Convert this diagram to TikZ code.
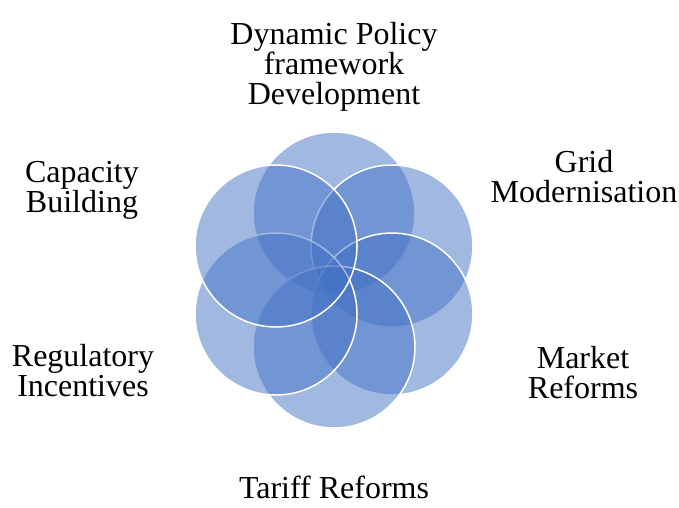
\documentclass[tikz,border=0pt]{standalone}
\usepackage{fontspec}
\setmainfont{Liberation Serif}
\definecolor{petalblue}{RGB}{68,114,196}
\begin{document}
\begin{tikzpicture}[x=1pt,y=-1pt,
  petal/.style={circle, minimum size=162pt, inner sep=0pt,
    fill=petalblue, fill opacity=0.5, draw=white, draw opacity=1, line width=1.5pt},
  caption/.style={font=\fontsize{32}{30}\selectfont, align=center, text=black, inner sep=0pt}]
\useasboundingbox (0,0) rectangle (679,507);
% six overlapping circles, drawn clockwise from the top
\node[petal] (ptop) at (334,213) {};
\node[petal] (pur)  at (392,246) {};
\node[petal] (plr)  at (392,314) {};
\node[petal] (pbot) at (334,347) {};
\node[petal] (pll)  at (276,314) {};
\node[petal] (pul)  at (276,246) {};
% captions
\node[caption] (ttop) at (334,67)  {Dynamic Policy\\framework\\Development};
\node[caption] (tur)  at (584,177) {Grid\\Modernisation};
\node[caption] (tlr)  at (583,373) {Market\\Reforms};
\node[caption, anchor=base] (tbot) at (334,498) {Tariff Reforms};
\node[caption] (tll)  at (83,371)  {Regulatory\\Incentives};
\node[caption] (tul)  at (82,190)  {Capacity\\Building};
\end{tikzpicture}
\end{document}
